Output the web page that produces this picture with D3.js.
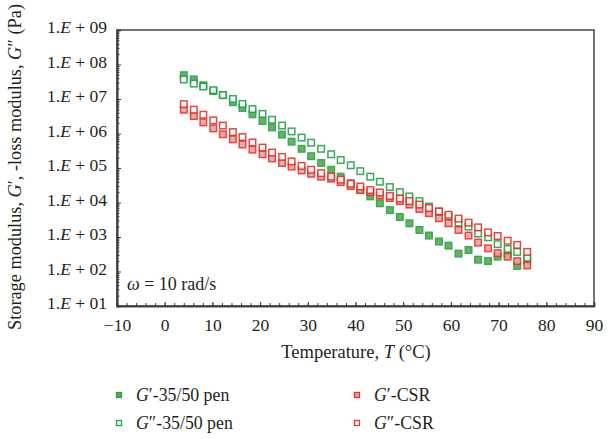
<!DOCTYPE html>
<html lang="en">
<head>
  <meta charset="UTF-8">
  <title>Storage and loss modulus vs temperature</title>
  <script src="https://d3js.org/d3.v7.min.js"></script>
  <style>
    body { margin: 0; background: #fff; font-family: "Liberation Serif", serif; }
    svg text { fill: #231f20; font-family: "Liberation Serif", serif; }
    .frame { fill: none; stroke: #3a3a3a; stroke-width: 1.4; }
  </style>
</head>
<body>
<svg width="611" height="439"></svg>

<script>
  // temperatures (°C) of the sweep
  const temps = [4, 6.1, 8.1, 10.2, 12.2, 14.3, 16.3, 18.4, 20.5, 22.5, 24.6, 26.6,
                 28.7, 30.7, 32.8, 34.9, 36.9, 39, 41, 43.1, 45.1, 47.2, 49.3, 51.3,
                 53.4, 55.4, 57.5, 59.5, 61.6, 63.7, 65.7, 67.8, 69.8, 71.9, 73.9, 76];

  // moduli in Pa
  const gp_pen = [4.9e7, 3.7e7, 2.5e7, 1.7e7, 1.3e7, 8.1e6, 5.5e6, 3.6e6, 2.3e6, 1.5e6, 9.3e5, 5.8e5,
                  3.6e5, 2.2e5, 1.4e5, 8.9e4, 5.6e4, 3.6e4, 2.3e4, 1.5e4, 9.5e3, 6.0e3, 3.8e3, 2.5e3,
                  1.6e3, 1.1e3, 740, 560, 330, 420, 220, 200, 270, 320, 145, 210];
  const gpp_pen = [3.7e7, 2.8e7, 2.3e7, 1.8e7, 1.3e7, 1.0e7, 7.2e6, 5.1e6, 3.7e6, 2.5e6, 1.7e6, 1.15e6,
                   7.6e5, 5.4e5, 3.6e5, 2.5e5, 1.7e5, 1.2e5, 8.1e4, 5.6e4, 4.0e4, 2.8e4, 2.0e4, 1.5e4,
                   1.1e4, 7.6e3, 5.5e3, 3.9e3, 2.6e3, 2.0e3, 1.26e3, 980, 620, 450, 370, 250];
  const gp_csr = [4.9e6, 3.2e6, 2.1e6, 1.4e6, 9.5e5, 6.8e5, 4.8e5, 3.4e5, 2.5e5, 1.9e5, 1.4e5, 1.1e5,
                  8.5e4, 6.8e4, 5.6e4, 4.9e4, 3.9e4, 3.0e4, 2.3e4, 2.0e4, 1.6e4, 1.35e4, 1.1e4, 8.7e3,
                  6.5e3, 4.9e3, 3.5e3, 2.5e3, 1.6e3, 1.1e3, 690, 470, 340, 270, 200, 150];
  const gpp_csr = [7.1e6, 4.9e6, 3.5e6, 2.4e6, 1.7e6, 1.1e6, 7.9e5, 5.5e5, 3.9e5, 2.8e5, 2.1e5, 1.55e5,
                   1.15e5, 8.9e4, 7.1e4, 5.6e4, 4.6e4, 3.5e4, 2.9e4, 2.3e4, 1.95e4, 1.55e4, 1.3e4, 1.1e4,
                   8.7e3, 6.9e3, 5.5e3, 4.4e3, 3.4e3, 2.6e3, 1.9e3, 1.35e3, 1.07e3, 780, 590, 370];

  const xTicks = [-10, 0, 10, 20, 30, 40, 50, 60, 70, 80, 90];
  const yTicks = [1e1, 1e2, 1e3, 1e4, 1e5, 1e6, 1e7, 1e8, 1e9];

  const series = [
    {name: "\u2032-35/50 pen", data: gp_pen,  stroke: "#25a04b", fill: "#5aab46"},
    {name: "\u2033-35/50 pen", data: gpp_pen, stroke: "#25a04b", fill: "#ffffff"},
    {name: "\u2032-CSR",       data: gp_csr,  stroke: "#e5332c", fill: "#eba3a0"},
    {name: "\u2033-CSR",       data: gpp_csr, stroke: "#e5332c", fill: "#ffffff"}
  ];

  const svg = d3.select("svg"),
        plotL = 117, plotR = 594, plotT = 30, plotB = 306;

  const x = d3.scaleLinear().domain([-10, 90]).range([plotL, plotR]);
  const y = d3.scaleLog().domain([1e1, 1e9]).range([plotB, plotT]);

  // frame
  svg.append("rect").attr("class", "frame")
    .attr("x", plotL).attr("y", plotT)
    .attr("width", plotR - plotL).attr("height", plotB - plotT);

  // x axis, ticks inward
  const xMinor = d3.range(-10, 91, 2);
  const gx = svg.append("g").attr("transform", `translate(0,${plotB})`);
  gx.call(d3.axisBottom(x).tickValues(xMinor).tickSize(-3).tickFormat(""));
  gx.append("g").call(d3.axisBottom(x).tickValues(xTicks).tickSize(-4).tickPadding(13)
      .tickFormat(d => d < 0 ? "\u2212" + Math.abs(d) : d));
  gx.selectAll("path.domain").attr("stroke", "#3a3a3a").attr("stroke-width", 1.4);
  gx.selectAll("line").attr("stroke", "#3a3a3a");
  gx.selectAll("text").attr("font-size", 17.5).attr("fill", "#231f20")
    .attr("font-family", "Liberation Serif, serif");

  // y axis, log, ticks inward
  const yMinor = [];
  for (let e = 1; e < 9; e++) for (let m = 2; m < 10; m++) yMinor.push(m * Math.pow(10, e));
  const gy = svg.append("g").attr("transform", `translate(${plotL},0)`);
  gy.call(d3.axisLeft(y).tickValues(yMinor).tickSize(-2.5).tickFormat(""));
  gy.append("g").call(d3.axisLeft(y).tickValues(yTicks).tickSize(-4).tickFormat(""));
  gy.selectAll("path.domain").attr("stroke", "#3a3a3a").attr("stroke-width", 1.6);
  gy.selectAll("line").attr("stroke", "#3a3a3a");

  // tick labels "1.E + 0n"
  svg.append("g").selectAll("text")
    .data(yTicks)
    .join("text")
      .attr("x", plotL - 10)
      .attr("y", d => y(d) + 3)
      .attr("text-anchor", "end")
      .attr("font-size", 17.5)
      .each(function(d) {
        const t = d3.select(this);
        const e = Math.round(Math.log10(d));
        t.append("tspan").text("1.");
        t.append("tspan").attr("font-style", "italic").text("E");
        t.append("tspan").text(" + " + String(e).padStart(2, "0"));
      });

  // markers
  const size = 6.5;
  series.forEach(s => {
    svg.append("g").selectAll("rect")
      .data(s.data.map((v, i) => [temps[i], v]))
      .join("rect")
        .attr("x", d => x(d[0]) - size / 2)
        .attr("y", d => y(d[1]) - size / 2)
        .attr("width", size)
        .attr("height", size)
        .attr("fill", s.fill)
        .attr("stroke", s.stroke)
        .attr("stroke-width", 1.5)
        .attr("opacity", 0.9);
  });

  // annotation
  const om = svg.append("text").attr("x", 127).attr("y", 290).attr("font-size", 18);
  om.append("tspan").attr("font-style", "italic").text("\u03c9");
  om.append("tspan").text(" = 10 rad/s");

  // axis titles
  const xt = svg.append("text").attr("x", 356).attr("y", 358)
    .attr("text-anchor", "middle").attr("font-size", 18.5);
  xt.append("tspan").text("Temperature, ");
  xt.append("tspan").attr("font-style", "italic").text("T");
  xt.append("tspan").text(" (\u00b0C)");

  const yt = svg.append("text")
    .attr("transform", "translate(21,167) rotate(-90)")
    .attr("text-anchor", "middle").attr("font-size", 18.3);
  yt.append("tspan").text("Storage modulus, ");
  yt.append("tspan").attr("font-style", "italic").text("G");
  yt.append("tspan").text("\u2032, -loss modulus, ");
  yt.append("tspan").attr("font-style", "italic").text("G");
  yt.append("tspan").text("\u2033 (Pa)");

  // legend
  const legPos = [[119, 395], [119, 423], [357, 395], [357, 423]];
  series.forEach((s, i) => {
    const [lx, ly] = legPos[i];
    svg.append("rect")
      .attr("x", lx - 2.5).attr("y", ly - 2.5)
      .attr("width", 5).attr("height", 5)
      .attr("fill", s.fill).attr("stroke", s.stroke).attr("stroke-width", 1.3);
    const t = svg.append("text").attr("x", lx + 17).attr("y", ly + 6).attr("font-size", 17.8);
    t.append("tspan").attr("font-style", "italic").text("G");
    t.append("tspan").text(s.name);
  });
</script>
</body>
</html>
